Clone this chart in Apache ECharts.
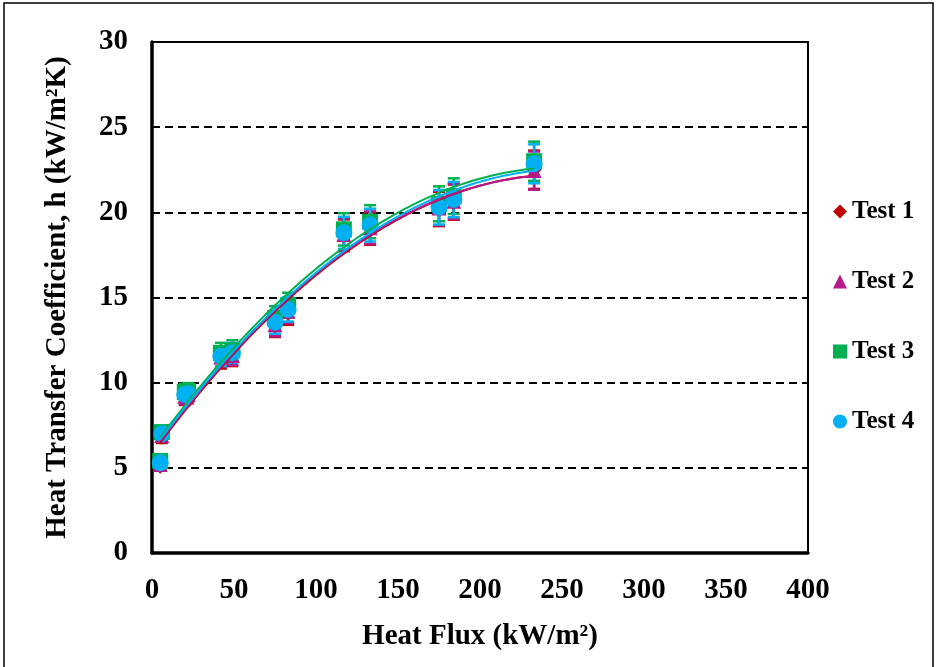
<!DOCTYPE html>
<html><head><meta charset="utf-8">
<script src="https://cdn.jsdelivr.net/npm/echarts@6/dist/echarts.min.js"></script>
<style>html,body{margin:0;padding:0;background:#fff}#c{width:937px;height:667px}</style>
</head><body><div id="c"></div>
<script>
// ---- data ----
const heatFlux = [5, 6, 20, 22, 42, 49, 75, 83, 117, 133, 175, 184, 233];
const test1 = [5.1, 6.8, 9.15, 9.25, 11.4, 11.55, 13.35, 14.1, 18.65, 19.05, 20.2, 20.6, 22.5];
const test2 = [5.2, 6.9, 9.2, 9.3, 11.5, 11.6, 13.4, 14.2, 18.7, 19.1, 20.25, 20.65, 22.45];
const test3 = [5.4, 7.1, 9.45, 9.5, 11.75, 11.9, 13.8, 14.55, 19.0, 19.45, 20.5, 20.95, 23.0];
const test4 = [5.3, 7.0, 9.3, 9.35, 11.55, 11.75, 13.55, 14.3, 18.8, 19.25, 20.3, 20.75, 22.85];
const errorFraction = 0.05;
const testNames = ['Test 1', 'Test 2', 'Test 3', 'Test 4'];
const xTicks = { min: 0, max: 400, interval: 50 };
const yTicks = { min: 0, max: 30, interval: 5 };

const colors = ['#C00000', '#B5198A', '#00B050', '#00B0F0'];
const symbols = ['diamond', 'triangle', 'rect', 'circle'];
const symSizes = [15, 15, 16, 17];
const allTests = [test1, test2, test3, test4];

// 2nd order polynomial least-squares trendline (as in Excel)
function quadFit(xs, ys) {
  let S = [0,0,0,0,0], T = [0,0,0];
  for (let i = 0; i < xs.length; i++) {
    let p = 1;
    for (let k = 0; k < 5; k++) { S[k] += p; if (k < 3) T[k] += p * ys[i]; p *= xs[i]; }
  }
  const A = [[S[0],S[1],S[2],T[0]],[S[1],S[2],S[3],T[1]],[S[2],S[3],S[4],T[2]]];
  for (let i = 0; i < 3; i++) {
    for (let j = i + 1; j < 3; j++) {
      const f = A[j][i] / A[i][i];
      for (let k = i; k < 4; k++) A[j][k] -= f * A[i][k];
    }
  }
  const c = [0,0,0];
  for (let i = 2; i >= 0; i--) {
    let s = A[i][3];
    for (let k = i + 1; k < 3; k++) s -= A[i][k] * c[k];
    c[i] = s / A[i][i];
  }
  return c;
}
function fitLine(xs, ys) {
  const c = quadFit(xs, ys);
  const lo = Math.min(...xs), hi = Math.max(...xs);
  const pts = [];
  for (let i = 0; i <= 80; i++) {
    const x = lo + (hi - lo) * i / 80;
    pts.push([x, c[0] + c[1] * x + c[2] * x * x]);
  }
  return pts;
}

const FONT = '"Liberation Serif", "Times New Roman", serif';
const series = [];
allTests.forEach((ys, t) => {
  series.push({
    name: 'err' + t, type: 'custom', z: 2 + t * 0.01,
    data: heatFlux.map((x, i) => [x, ys[i] * (1 - errorFraction), ys[i] * (1 + errorFraction)]),
    renderItem: function (params, api) {
      const x = api.value(0);
      const pLo = api.coord([x, api.value(1)]);
      const pHi = api.coord([x, api.value(2)]);
      const st = { stroke: colors[t], lineWidth: 2.5 };
      const w = 6;
      return { type: 'group', children: [
        { type: 'line', shape: { x1: pLo[0], y1: pLo[1], x2: pHi[0], y2: pHi[1] }, style: st },
        { type: 'line', shape: { x1: pLo[0] - w, y1: pLo[1], x2: pLo[0] + w, y2: pLo[1] }, style: st },
        { type: 'line', shape: { x1: pHi[0] - w, y1: pHi[1], x2: pHi[0] + w, y2: pHi[1] }, style: st }
      ]};
    },
    silent: true
  });
});
allTests.forEach((ys, t) => {
  series.push({
    name: testNames[t], type: 'scatter', z: 3 + t * 0.01,
    symbol: symbols[t], symbolSize: symSizes[t],
    itemStyle: { color: colors[t], opacity: 1 },
    data: heatFlux.map((x, i) => [x, ys[i]])
  });
});
allTests.forEach((ys, t) => {
  series.push({
    name: 'fit' + t, type: 'line', z: 4 + t * 0.01, showSymbol: false, smooth: false,
    lineStyle: { color: colors[t], width: 2 },
    data: fitLine(heatFlux, ys), silent: true
  });
});

const chart = echarts.init(document.getElementById('c'));
chart.setOption({
  animation: false,
  backgroundColor: '#fff',
  grid: { left: 152, top: 42, right: 129, bottom: 114, show: true, borderColor: '#000', borderWidth: 2, backgroundColor: 'transparent' },
  xAxis: {
    type: 'value', min: xTicks.min, max: xTicks.max, interval: xTicks.interval,
    name: 'Heat Flux (kW/m\u00B2)', nameLocation: 'middle', nameGap: 69,
    nameTextStyle: { fontFamily: FONT, fontWeight: 'bold', fontSize: 29, color: '#000' },
    axisLine: { show: true, lineStyle: { color: '#000', width: 3.5 } },
    axisTick: { show: false },
    axisLabel: { fontFamily: FONT, fontWeight: 'bold', fontSize: 29, color: '#000', margin: 23 },
    splitLine: { show: false }
  },
  yAxis: {
    type: 'value', min: yTicks.min, max: yTicks.max, interval: yTicks.interval,
    name: 'Heat Transfer Coefficient, h (kW/m\u00B2K)', nameLocation: 'middle', nameGap: 80,
    nameTextStyle: { fontFamily: FONT, fontWeight: 'bold', fontSize: 29, color: '#000' },
    axisLine: { show: true, lineStyle: { color: '#000', width: 3.5 } },
    axisTick: { show: false },
    axisLabel: { fontFamily: FONT, fontWeight: 'bold', fontSize: 29, color: '#000', margin: 24 },
    splitLine: { show: true, lineStyle: { color: '#000', width: 2, type: [8, 5] } }
  },
  legend: {
    orient: 'vertical', left: 828, top: 194, itemGap: 45,
    itemWidth: 14, itemHeight: 14,
    data: testNames.map((n, i) => ({ name: n, icon: symbols[i] })),
    textStyle: { fontFamily: FONT, fontWeight: 'bold', fontSize: 25, color: '#000', lineHeight: 22 }
  },
  graphic: [{
    type: 'rect', z: 100, silent: true,
    shape: { x: 4, y: 3, width: 929, height: 720 },
    style: { fill: 'none', stroke: '#000', lineWidth: 1.5 }
  }],
  series: series
});
</script></body></html>
